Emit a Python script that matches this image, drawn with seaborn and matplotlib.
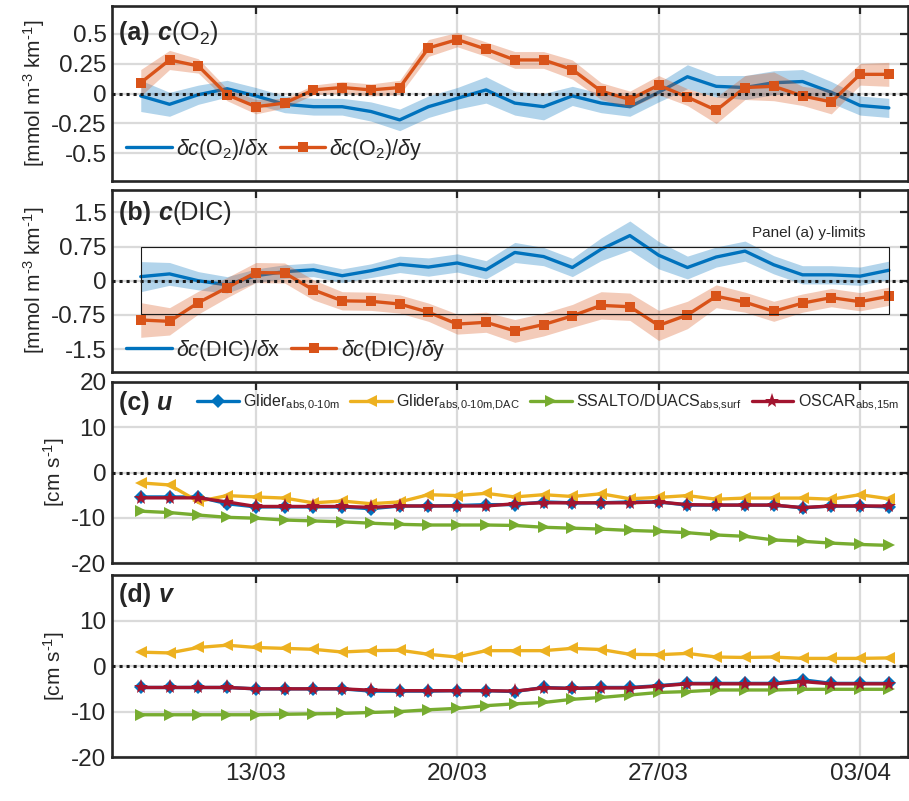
import matplotlib
matplotlib.use("Agg")
import numpy as np
import pandas as pd
import matplotlib.pyplot as plt
import matplotlib.dates as mdates
from matplotlib.patches import Rectangle
from matplotlib.offsetbox import TextArea, HPacker, AnchoredOffsetbox
import seaborn as sns

# ---------------- data ----------------
dates = pd.date_range("2019-03-09", "2019-04-04", freq="D")
tick_dates = pd.to_datetime(["2019-03-13", "2019-03-20", "2019-03-27", "2019-04-03"])
xlim = (pd.Timestamp("2019-03-08 00:00"), pd.Timestamp("2019-04-04 16:00"))

o2_dx = [-0.02, -0.09, -0.01, 0.04, -0.02, -0.09, -0.11, -0.11, -0.15, -0.22, -0.11, -0.04, 0.03,
         -0.08, -0.11, -0.02, -0.08, -0.11, 0.01, 0.14, 0.06, 0.05, 0.09, 0.10, 0.01, -0.10, -0.12]
o2_dx_err = [0.13, 0.10, 0.08, 0.07, 0.07, 0.07, 0.07, 0.07, 0.08, 0.09, 0.09, 0.09, 0.11,
             0.10, 0.11, 0.08, 0.08, 0.08, 0.08, 0.10, 0.09, 0.10, 0.10, 0.10, 0.09, 0.08, 0.08]
o2_dy = [0.09, 0.28, 0.23, -0.01, -0.11, -0.08, 0.03, 0.05, 0.03, 0.05, 0.38, 0.45, 0.37,
         0.28, 0.28, 0.20, 0.02, -0.05, 0.07, -0.03, -0.14, 0.05, 0.06, -0.02, -0.07, 0.16, 0.16]
o2_dy_err = [0.11, 0.08, 0.06, 0.05, 0.06, 0.04, 0.04, 0.05, 0.05, 0.06, 0.07, 0.06, 0.06,
             0.07, 0.07, 0.08, 0.07, 0.07, 0.08, 0.07, 0.11, 0.10, 0.12, 0.08, 0.10, 0.09, 0.10]

dic_dx = [0.09, 0.15, 0.00, -0.09, 0.11, 0.20, 0.24, 0.11, 0.22, 0.36, 0.30, 0.39, 0.24,
          0.62, 0.53, 0.29, 0.69, 0.99, 0.56, 0.29, 0.52, 0.65, 0.35, 0.13, 0.13, 0.10, 0.23]
dic_dx_err = [0.33, 0.25, 0.20, 0.18, 0.15, 0.15, 0.15, 0.15, 0.15, 0.18, 0.20, 0.20, 0.20,
              0.22, 0.20, 0.20, 0.25, 0.32, 0.30, 0.25, 0.22, 0.22, 0.20, 0.20, 0.20, 0.20, 0.20]
dic_dy = [-0.86, -0.89, -0.48, -0.15, 0.18, 0.17, -0.20, -0.44, -0.45, -0.51, -0.69, -0.95, -0.91,
          -1.10, -0.96, -0.77, -0.54, -0.57, -0.98, -0.75, -0.34, -0.47, -0.67, -0.49, -0.37, -0.46, -0.34]
dic_dy_err = [0.38, 0.30, 0.25, 0.22, 0.22, 0.22, 0.22, 0.20, 0.20, 0.20, 0.20, 0.22, 0.22,
              0.25, 0.25, 0.25, 0.30, 0.30, 0.33, 0.30, 0.25, 0.22, 0.22, 0.20, 0.20, 0.20, 0.20]

u_glider = [-5.4, -5.4, -5.4, -6.9, -7.6, -7.6, -7.6, -7.6, -8.0, -7.4, -7.4, -7.3, -7.1,
            -7.1, -6.5, -6.7, -6.7, -6.5, -6.5, -7.2, -7.2, -7.2, -7.2, -7.8, -7.4, -7.4, -7.6]
u_glider_dac = [-2.3, -2.75, -6.4, -5.1, -5.4, -5.65, -6.7, -6.3, -6.9, -6.5, -4.9, -5.1, -4.6,
                -5.4, -4.9, -5.3, -4.7, -5.8, -5.5, -5.1, -5.9, -5.65, -5.65, -5.65, -5.9, -4.9, -5.8]
u_ssalto = [-8.55, -8.85, -9.4, -9.9, -10.1, -10.5, -10.7, -10.9, -11.2, -11.45, -11.6, -11.6, -11.6,
            -11.7, -12.1, -12.3, -12.5, -12.8, -13.0, -13.3, -13.8, -14.1, -14.9, -15.2, -15.6, -15.9, -16.1]
u_oscar = [-5.6, -5.6, -5.6, -6.5, -7.5, -7.5, -7.5, -7.5, -7.7, -7.4, -7.4, -7.4, -7.4,
           -6.9, -6.7, -6.7, -6.7, -6.7, -6.5, -7.1, -7.2, -7.2, -7.2, -7.75, -7.4, -7.4, -7.4]

v_glider = [-4.7, -4.7, -4.7, -4.7, -5.0, -5.0, -5.0, -5.0, -5.5, -5.5, -5.5, -5.4, -5.4,
            -5.6, -4.7, -4.9, -4.7, -4.7, -4.3, -3.8, -3.8, -3.8, -3.8, -3.0, -3.8, -3.8, -3.8]
v_glider_dac = [3.07, 2.9, 4.1, 4.6, 4.1, 3.9, 3.7, 3.1, 3.4, 3.5, 2.6, 2.0, 3.4,
                3.4, 3.4, 3.9, 3.65, 2.6, 2.5, 2.8, 2.0, 1.9, 2.0, 1.7, 1.7, 1.7, 1.8]
v_ssalto = [-10.7, -10.7, -10.7, -10.7, -10.7, -10.6, -10.5, -10.4, -10.2, -10.0, -9.6, -9.3, -8.7,
            -8.3, -8.0, -7.3, -6.9, -6.35, -5.8, -5.6, -5.25, -5.25, -5.25, -5.1, -5.1, -5.1, -5.1]
v_oscar = [-4.7, -4.7, -4.7, -4.7, -5.0, -5.0, -5.0, -5.0, -5.3, -5.4, -5.4, -5.4, -5.4,
           -5.5, -4.8, -4.9, -4.8, -4.8, -4.4, -3.9, -3.9, -3.9, -3.9, -3.4, -3.9, -3.9, -3.9]

panel_a_ylim = 0.73
ticks_a = [-0.5, -0.25, 0, 0.25, 0.5]
ticks_b = [-1.5, -0.75, 0, 0.75, 1.5]
ticks_c = [-20, -10, 0, 10, 20]
ticks_d = [-20, -10, 0, 10]

# ---------------- style ----------------
sns.set_theme(style="white")
plt.rcParams["font.family"] = ["Liberation Sans", "DejaVu Sans"]
plt.rcParams["mathtext.fontset"] = "custom"
plt.rcParams["mathtext.rm"] = "Liberation Sans"
plt.rcParams["mathtext.it"] = "Liberation Sans:italic"
plt.rcParams["mathtext.bf"] = "Liberation Sans:bold"
plt.rcParams["axes.unicode_minus"] = False

BLUE = "#0072BD"; ORANGE = "#D95319"; YELLOW = "#EDB120"; GREEN = "#77AC30"; RED = "#A2142F"
AXC = "#262626"

fig = plt.figure(figsize=(9.09, 8.01), dpi=100)
L, W = 0.1232, 0.8757
ax_a = fig.add_axes([L, 0.774, W, 0.2185])
ax_b = fig.add_axes([L, 0.5356, W, 0.2278])
ax_c = fig.add_axes([L, 0.2971, W, 0.226])
ax_d = fig.add_axes([L, 0.0549, W, 0.227])

TICK_FS = 17.5


def style(ax, ylim, yticks, ylabel, show_x):
    ax.set_xlim(*xlim)
    ax.set_ylim(*ylim)
    ax.set_yticks(yticks)
    ax.set_yticklabels([f"{t:g}" for t in yticks])
    ax.set_xticks(tick_dates)
    ax.xaxis.set_major_formatter(mdates.DateFormatter("%d/%m"))
    ax.grid(True, color="#dadada", lw=1.6)
    ax.set_axisbelow(True)
    ax.tick_params(direction="in", top=True, right=True, length=6, width=1.6,
                   color=AXC, labelsize=TICK_FS, labelbottom=show_x, pad=4)
    for s in ax.spines.values():
        s.set_linewidth(1.9)
        s.set_color(AXC)
    ax.set_ylabel(ylabel, fontsize=15, labelpad=3)
    ax.set_xlabel("")
    ax.axhline(0, color="k", lw=2.2, ls=(0, (1, 1.3)), zorder=6)


def panel_title(ax, tag, var, rest, y):
    fs = 18
    parts = [TextArea(tag + " ", textprops=dict(fontsize=fs, fontweight="bold")),
             TextArea(var, textprops=dict(fontsize=fs, fontweight="bold", fontstyle="italic"))]
    if rest:
        parts.append(TextArea(rest, textprops=dict(fontsize=fs)))
    box = HPacker(children=parts, align="baseline", pad=0, sep=0)
    ab = AnchoredOffsetbox(loc="center left", child=box, pad=0, borderpad=0, frameon=False,
                           bbox_to_anchor=(0.009, y), bbox_transform=ax.transAxes)
    ab.set_zorder(10)
    ax.add_artist(ab)


def band_line(ax, y, err, color, label, marker=None, z=2):
    y = np.asarray(y); err = np.asarray(err)
    ax.fill_between(dates, y - err, y + err, color=color, alpha=0.3, lw=0, zorder=z)
    sns.lineplot(x=dates, y=y, ax=ax, color=color, lw=2.4, label=label, marker=marker,
                 markersize=7 if marker else 0, markeredgewidth=0, zorder=z + 0.5)


UNIT_C = r"[mmol m$^\text{-3}$ km$^\text{-1}$]"
UNIT_V = r"[cm s$^\text{-1}$]"

# ---------------- panel (a) ----------------
band_line(ax_a, o2_dx, o2_dx_err, BLUE, r"$\delta c$(O$_2$)/$\delta$x", z=2)
band_line(ax_a, o2_dy, o2_dy_err, ORANGE, r"$\delta c$(O$_2$)/$\delta$y", marker="s", z=3)
style(ax_a, (-panel_a_ylim, panel_a_ylim), ticks_a, UNIT_C, False)
ax_a.legend(loc="center left", bbox_to_anchor=(0.018, 0.18), ncol=2, frameon=False,
            fontsize=15.5, handlelength=2.1, handletextpad=0.2, columnspacing=0.5,
            borderpad=0, borderaxespad=0)
panel_title(ax_a, "(a)", "c", "(O$_2$)", 0.845)

# ---------------- panel (b) ----------------
band_line(ax_b, dic_dx, dic_dx_err, BLUE, r"$\delta c$(DIC)/$\delta$x", z=2)
band_line(ax_b, dic_dy, dic_dy_err, ORANGE, r"$\delta c$(DIC)/$\delta$y", marker="s", z=3)
style(ax_b, (-2, 2), ticks_b, UNIT_C, False)
x0n = mdates.date2num(dates[0]); x1n = mdates.date2num(dates[-1])
ax_b.add_patch(Rectangle((x0n, -panel_a_ylim), x1n - x0n, 2 * panel_a_ylim,
                         fill=False, ec="k", lw=0.8, zorder=5))
ax_b.text(0.875, 0.763, "Panel (a) y-limits", transform=ax_b.transAxes, ha="center",
          va="center", fontsize=11)
ax_b.legend(loc="center left", bbox_to_anchor=(0.018, 0.12), ncol=2, frameon=False,
            fontsize=15.5, handlelength=2.1, handletextpad=0.2, columnspacing=0.5,
            borderpad=0, borderaxespad=0)
panel_title(ax_b, "(b)", "c", "(DIC)", 0.87)

# ---------------- panels (c), (d) ----------------
labels_cd = [r"Glider$_\text{abs,0-10m}$", r"Glider$_\text{abs,0-10m,DAC}$",
             r"SSALTO/DUACS$_\text{abs,surf}$", r"OSCAR$_\text{abs,15m}$"]
specs = [(BLUE, "D", 7), (YELLOW, "<", 9), (GREEN, ">", 9), (RED, "*", 11)]

for ax, series in [(ax_c, [u_glider, u_glider_dac, u_ssalto, u_oscar]),
                   (ax_d, [v_glider, v_glider_dac, v_ssalto, v_oscar])]:
    for vals, lab, (col, mk, ms) in zip(series, labels_cd, specs):
        sns.lineplot(x=dates, y=vals, ax=ax, color=col, lw=2.4, marker=mk, markersize=ms,
                     markeredgewidth=0, label=lab)

style(ax_c, (-20, 20), ticks_c, UNIT_V, False)
style(ax_d, (-20, 20), ticks_d, UNIT_V, True)
ax_c.legend(loc="center left", bbox_to_anchor=(0.107, 0.884), ncol=4, frameon=False,
            fontsize=11.5, handlelength=2.6, handletextpad=0.3, columnspacing=0.6,
            borderpad=0, borderaxespad=0)
ax_d.get_legend().remove()
panel_title(ax_c, "(c)", "u", "", 0.884)
panel_title(ax_d, "(d)", "v", "", 0.89)

fig.savefig("out.png", dpi=100)
